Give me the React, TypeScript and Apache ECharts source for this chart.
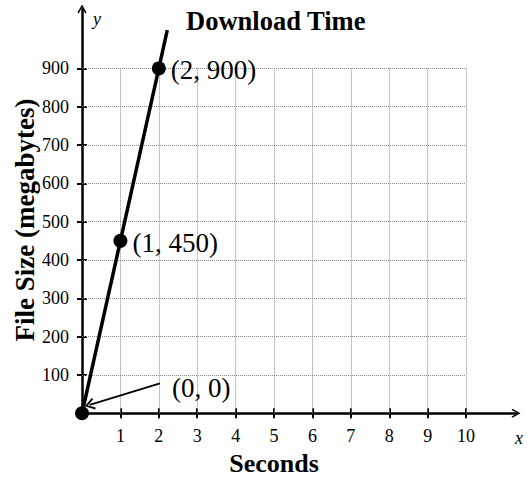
import React, { useEffect, useRef } from "react";
import * as echarts from "echarts";

const xTicks = [1, 2, 3, 4, 5, 6, 7, 8, 9, 10];
const yTicks = [100, 200, 300, 400, 500, 600, 700, 800, 900];
const gridXMax = 10;
const gridYMax = 900;
const axisXMax = 11.3;
const axisYMax = 1055;
const points = [
  [0, 0],
  [1, 450],
  [2, 900],
];
const lineEnd = [2.22, 1000];
const arrowFrom = [2.03, 78];
const arrowTo = [0.2, 22];

const SERIF = "'Liberation Serif', 'Times New Roman', serif";
const CHEVRON = "path://M5,0 L10,9 L8.6,10 L5,3 L1.4,10 L0,9 Z";

export default function App() {
  const ref = useRef<HTMLDivElement>(null);
  useEffect(() => {
    if (!ref.current) return;
    const chart = echarts.init(ref.current, undefined, { renderer: "svg" });

    const gridLines: any[] = [];
    xTicks.forEach((x) => gridLines.push([{ coord: [x, 0] }, { coord: [x, gridYMax] }]));
    yTicks.forEach((y) => gridLines.push([{ coord: [0, y] }, { coord: [gridXMax, y] }]));

    const axisLabelStyle = { color: "#000", fontFamily: SERIF, fontSize: 18 };

    chart.setOption({
      animation: false,
      title: {
        text: "Download Time",
        left: 181,
        top: 2,
        textStyle: { fontFamily: SERIF, fontSize: 26.5, fontWeight: "bold", color: "#000" },
      },
      grid: { left: 82, top: 9, width: 434, height: 404.3 },
      xAxis: [
        {
          type: "value",
          min: 0,
          max: axisXMax,
          axisLine: {
            show: true,
            lineStyle: { color: "#000", width: 2.5 },
            symbol: ["none", CHEVRON],
            symbolSize: [12, 9],
          },
          axisTick: { show: true, length: 5, customValues: xTicks, lineStyle: { color: "#000", width: 2 } },
          axisLabel: { customValues: xTicks, margin: 14, ...axisLabelStyle },
          splitLine: { show: false },
        },
        {
          type: "value",
          position: "bottom",
          min: 0,
          max: axisXMax,
          axisLine: { show: false },
          axisTick: { show: true, inside: true, length: 5, customValues: xTicks, lineStyle: { color: "#000", width: 2 } },
          axisLabel: { show: false },
          splitLine: { show: false },
        },
      ],
      yAxis: [
        {
          type: "value",
          min: 0,
          max: axisYMax,
          axisLine: {
            show: true,
            lineStyle: { color: "#000", width: 2.5 },
            symbol: ["none", CHEVRON],
            symbolSize: [12, 9],
          },
          axisTick: { show: true, length: 5, customValues: yTicks, lineStyle: { color: "#000", width: 2 } },
          axisLabel: { customValues: yTicks, margin: 13, ...axisLabelStyle },
          splitLine: { show: false },
        },
        {
          type: "value",
          position: "left",
          min: 0,
          max: axisYMax,
          axisLine: { show: false },
          axisTick: { show: true, inside: true, length: 5, customValues: yTicks, lineStyle: { color: "#000", width: 2 } },
          axisLabel: { show: false },
          splitLine: { show: false },
        },
      ],
      graphic: [
        {
          type: "text",
          x: 274,
          y: 463,
          style: {
            text: "Seconds",
            align: "center",
            verticalAlign: "middle",
            font: `bold 26px ${SERIF}`,
            fill: "#000",
          },
        },
        {
          type: "text",
          x: 25,
          y: 220,
          rotation: Math.PI / 2,
          style: {
            text: "File Size (megabytes)",
            align: "center",
            verticalAlign: "middle",
            font: `bold 27px ${SERIF}`,
            fill: "#000",
          },
        },
        {
          type: "text",
          x: 97,
          y: 19,
          style: { text: "y", align: "center", verticalAlign: "middle", font: `italic 18px ${SERIF}`, fill: "#000" },
        },
        {
          type: "text",
          x: 519,
          y: 438,
          style: { text: "x", align: "center", verticalAlign: "middle", font: `italic 18px ${SERIF}`, fill: "#000" },
        },
      ],
      series: [
        {
          type: "line",
          data: [],
          silent: true,
          markLine: {
            silent: true,
            symbol: "none",
            label: { show: false },
            lineStyle: { color: "#888", width: 1, type: [1, 1] },
            data: gridLines,
          },
        },
        {
          type: "line",
          data: [...points, lineEnd],
          showSymbol: false,
          lineStyle: { color: "#000", width: 3.5 },
          z: 5,
          markLine: {
            silent: true,
            symbol: ["none", CHEVRON],
            symbolSize: [12, 10],
            label: { show: false },
            lineStyle: { color: "#000", width: 1.8, type: "solid", opacity: 1 },
            data: [[{ coord: arrowFrom }, { coord: arrowTo }]],
          },
        },
        {
          type: "scatter",
          symbolSize: 14,
          itemStyle: { color: "#000", opacity: 1 },
          z: 6,
          label: {
            show: true,
            position: "right",
            distance: 5,
            offset: [0, 2],
            color: "#000",
            opacity: 1,
            fontFamily: SERIF,
            fontSize: 27,
            formatter: (p: any) => `(${p.value[0]}, ${p.value[1]})`,
          },
          data: points.map((pt, i) =>
            i === 0 ? { value: pt, label: { offset: [78, -25] } } : { value: pt }
          ),
        },
      ],
    });
    return () => chart.dispose();
  }, []);
  return <div ref={ref} style={{ position: "absolute", left: 0, top: 0, width: 528, height: 477 }} />;
}
